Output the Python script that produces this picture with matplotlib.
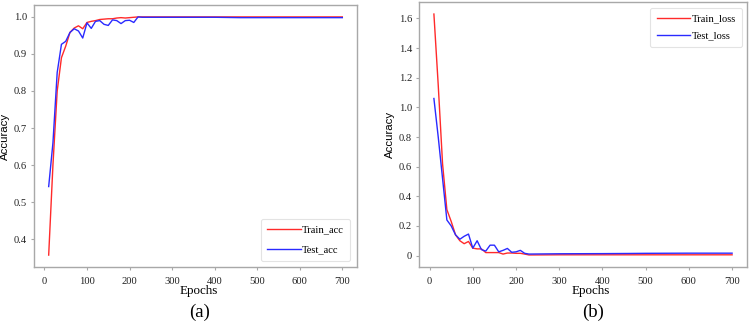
import matplotlib
matplotlib.use("Agg")
import matplotlib.pyplot as plt
from matplotlib.ticker import FuncFormatter

plt.rcParams['font.family'] = ['Liberation Serif', 'DejaVu Serif']

# ---- data ----
epochs = [10, 20, 30, 40, 50, 60, 70, 80, 90, 100, 110, 120, 130, 140, 150, 160,
          170, 180, 190, 200, 210, 220, 230, 300, 400, 460, 500, 600, 700]

train_acc = [0.357, 0.60, 0.80, 0.890, 0.921, 0.958, 0.970, 0.976, 0.968, 0.985,
             0.988, 0.990, 0.993, 0.994, 0.995, 0.995, 0.997, 0.998, 0.997, 0.998,
             0.999, 1.000, 1.000, 1.000, 1.000, 1.000, 1.000, 1.000, 1.000]
test_acc = [0.542, 0.66, 0.850, 0.926, 0.934, 0.958, 0.968, 0.962, 0.943, 0.984,
            0.969, 0.988, 0.990, 0.980, 0.977, 0.992, 0.990, 0.982, 0.990, 0.991,
            0.985, 1.000, 0.999, 0.999, 0.999, 0.998, 0.998, 0.998, 0.998]

train_loss = [1.63, 1.15, 0.62, 0.31, 0.23, 0.14, 0.10, 0.08, 0.095, 0.05,
              0.045, 0.045, 0.02, 0.02, 0.02, 0.02, 0.01, 0.017, 0.017, 0.015,
              0.015, 0.01, 0.004, 0.005, 0.005, 0.005, 0.005, 0.005, 0.005]
test_loss = [1.06, 0.80, 0.52, 0.24, 0.20, 0.14, 0.11, 0.13, 0.145, 0.05,
             0.10, 0.04, 0.03, 0.07, 0.07, 0.025, 0.035, 0.048, 0.022, 0.025,
             0.035, 0.015, 0.01, 0.012, 0.013, 0.014, 0.015, 0.016, 0.016]

xticks = [0, 100, 200, 300, 400, 500, 600, 700]
acc_yticks = [0.4, 0.5, 0.6, 0.7, 0.8, 0.9, 1.0]
loss_yticks = [0, 0.2, 0.4, 0.6, 0.8, 1.0, 1.2, 1.4, 1.6]

RED = '#ff2a2a'
BLUE = '#2a2aff'
SPINE = '#a8a8a8'
W, H = 750, 323

fig = plt.figure(figsize=(7.5, 3.23), dpi=100)
ax1 = fig.add_axes([34 / W, (H - 267) / H, (357 - 34) / W, (267 - 5) / H])
ax2 = fig.add_axes([419 / W, (H - 267) / H, (747 - 419) / W, (267 - 2) / H])


def style(ax):
    for s in ax.spines.values():
        s.set_color(SPINE)
        s.set_linewidth(1.0)
    ax.tick_params(axis='both', length=2, width=0.8, color=SPINE,
                   labelsize=7.6, labelcolor='#222222')
    ax.tick_params(axis='x', pad=5)
    ax.tick_params(axis='y', pad=3)
    ax.set_xticks(xticks)


def legend(ax, loc, anchor, spacing):
    leg = ax.legend(loc=loc, bbox_to_anchor=anchor,
                    handlelength=3.2, borderpad=0.6, labelspacing=spacing,
                    fancybox=True, handletextpad=0.1, borderaxespad=0.0,
                    prop={'family': 'Liberation Serif', 'size': 7.6})
    leg.get_frame().set_edgecolor('#dddddd')
    leg.get_frame().set_linewidth(0.8)
    return leg


ax1.plot(epochs, train_acc, color=RED, lw=1.0, label='Train_acc')
ax1.plot(epochs, test_acc, color=BLUE, lw=1.0, label='Test_acc')
style(ax1)
ax1.set_yticks(acc_yticks)
ax1.yaxis.set_major_formatter(FuncFormatter(lambda v, p: f'{v:.1f}'))
ax1.set_ylabel('Accuracy', fontsize=8.2, family='Liberation Sans')
ax1.yaxis.set_label_coords((10 - 34) / 323, 0.5)
legend(ax1, 'lower right', ((350 - 34) / 323, (267 - 261) / 262), 1.0)

ax2.plot(epochs, train_loss, color=RED, lw=1.0, label='Train_loss')
ax2.plot(epochs, test_loss, color=BLUE, lw=1.0, label='Test_loss')
style(ax2)
ax2.set_yticks(loss_yticks)
ax2.yaxis.set_major_formatter(FuncFormatter(lambda v, p: '0' if abs(v) < 1e-9 else f'{v:.1f}'))
ax2.set_ylabel('Accuracy', fontsize=8.2, family='Liberation Sans')
ax2.yaxis.set_label_coords((395 - 419) / 328, 0.5)
legend(ax2, 'upper right', ((742 - 419) / 328, (267 - 8) / 265), 0.7)

# axis titles and panel labels
fig.text(199 / W, 1 - 291 / H, 'Epochs', ha='center', va='center', fontsize=9.4)
fig.text(591 / W, 1 - 291 / H, 'Epochs', ha='center', va='center', fontsize=9.4)
fig.text(199.5 / W, 1 - 312 / H, '(a)', ha='center', va='center', fontsize=13.5)
fig.text(593 / W, 1 - 312 / H, '(b)', ha='center', va='center', fontsize=13.5)

fig.savefig('out.png', dpi=100)
